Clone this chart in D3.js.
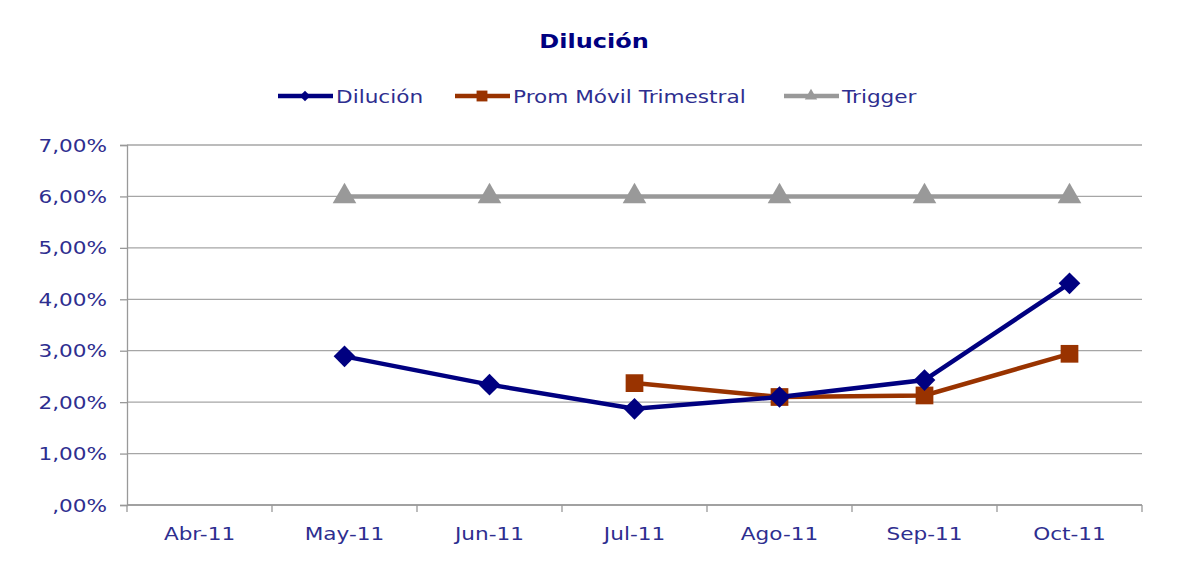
<!DOCTYPE html>
<html>
<head>
<meta charset="utf-8">
<script src="https://cdn.jsdelivr.net/npm/d3@7"></script>
<style>
  body { margin: 0; background: #fff; }
  text { font-family: "DejaVu Sans", Verdana, sans-serif; }
</style>
</head>
<body>
<script>
// datos
const categories = ['Abr-11', 'May-11', 'Jun-11', 'Jul-11', 'Ago-11', 'Sep-11', 'Oct-11'];
const dilucion = [null, 2.89, 2.34, 1.87, 2.10, 2.43, 4.31];
const promMovil = [null, null, null, 2.37, 2.10, 2.13, 2.94];
const trigger = [null, 6, 6, 6, 6, 6, 6];
const yTicks = [0, 1, 2, 3, 4, 5, 6, 7];

const W = 1184, H = 567;
const margin = {top: 145, right: 42, bottom: 62, left: 127};
const innerW = W - margin.left - margin.right;
const innerH = H - margin.top - margin.bottom;
const stretch = 1.2; // el texto original es mas ancho (Verdana estirada)

const svg = d3.select('body').append('svg').attr('width', W).attr('height', H);
const g = svg.append('g').attr('transform', `translate(${margin.left},${margin.top})`);

const x = d3.scaleBand().domain(categories).range([0, innerW]);
const y = d3.scaleLinear().domain([0, 7]).range([innerH, 0]);
const cx = d => x(d) + x.bandwidth() / 2;

const textColor = '#2e2e8f';
const fmt = v => (v === 0 ? '' : String(v)) + ',00%';

// texto estirado horizontalmente
function label(parent, tx, ty, str, anchor, size, weight, color) {
  return parent.append('text')
    .attr('transform', `translate(${tx},${ty}) scale(${stretch},1)`)
    .attr('text-anchor', anchor).attr('font-size', size + 'px')
    .attr('font-weight', weight || 'normal').attr('fill', color || textColor)
    .text(str);
}

// grid
g.selectAll('.grid').data(yTicks).enter().append('line')
  .attr('x1', 0).attr('x2', innerW)
  .attr('y1', d => y(d)).attr('y2', d => y(d))
  .attr('stroke', '#a6a6a6').attr('stroke-width', 1.3);

// y axis
const yAxisG = g.append('g').call(d3.axisLeft(y).tickValues(yTicks).tickFormat('').tickSize(7));
yAxisG.select('.domain').attr('stroke', '#999').attr('stroke-width', 1.3);
yAxisG.selectAll('.tick line').attr('stroke', '#999').attr('stroke-width', 1.3);
yTicks.forEach(t => label(g, -20, y(t) + 6.5, fmt(t), 'end', 18));

// x axis: ticks on band boundaries
const xAxisG = g.append('g').attr('transform', `translate(0,${innerH})`);
xAxisG.append('line').attr('x1', 0).attr('x2', innerW).attr('stroke', '#999').attr('stroke-width', 1.3);
const bounds = categories.map(c => x(c)).concat([innerW]);
xAxisG.selectAll('.xt').data(bounds).enter().append('line')
  .attr('x1', d => d).attr('x2', d => d).attr('y1', 0).attr('y2', 7)
  .attr('stroke', '#999').attr('stroke-width', 1.3);
categories.forEach(c => label(xAxisG, cx(c), 35, c, 'middle', 18));

const series = [
  {name: 'Dilución', values: dilucion, color: '#000080', symbol: d3.symbolDiamond2, size: 300, lsize: 70},
  {name: 'Prom Móvil Trimestral', values: promMovil, color: '#993300', symbol: d3.symbolSquare2, size: 400, lsize: 150},
  {name: 'Trigger', values: trigger, color: '#999999', symbol: d3.symbolTriangle2, size: 400, lsize: 110}
];

const line = d3.line().defined(d => d.v != null).x(d => cx(d.c)).y(d => y(d.v));

// draw in reverse so Dilución is on top
series.slice().reverse().forEach(s => {
  const pts = categories.map((c, i) => ({c: c, v: s.values[i]}));
  g.append('path').datum(pts).attr('d', line)
    .attr('fill', 'none').attr('stroke', s.color).attr('stroke-width', 4.5);
  g.selectAll(null).data(pts.filter(p => p.v != null)).enter().append('path')
    .attr('d', d3.symbol().type(s.symbol).size(s.size))
    .attr('transform', d => `translate(${cx(d.c)},${y(d.v)})`)
    .attr('fill', s.color);
});

// title
label(svg, 594, 48, 'Dilución', 'middle', 20, 'bold', '#000080');

// legend
const legendX = [278, 455, 784];
series.forEach((s, i) => {
  const lg = svg.append('g').attr('transform', `translate(${legendX[i]},96)`);
  lg.append('line').attr('x1', 0).attr('x2', 55).attr('stroke', s.color).attr('stroke-width', 4.5);
  lg.append('path').attr('d', d3.symbol().type(s.symbol).size(s.lsize))
    .attr('transform', 'translate(27,0)').attr('fill', s.color);
  label(lg, 58, 7, s.name, 'start', 18);
});
</script>
</body>
</html>
